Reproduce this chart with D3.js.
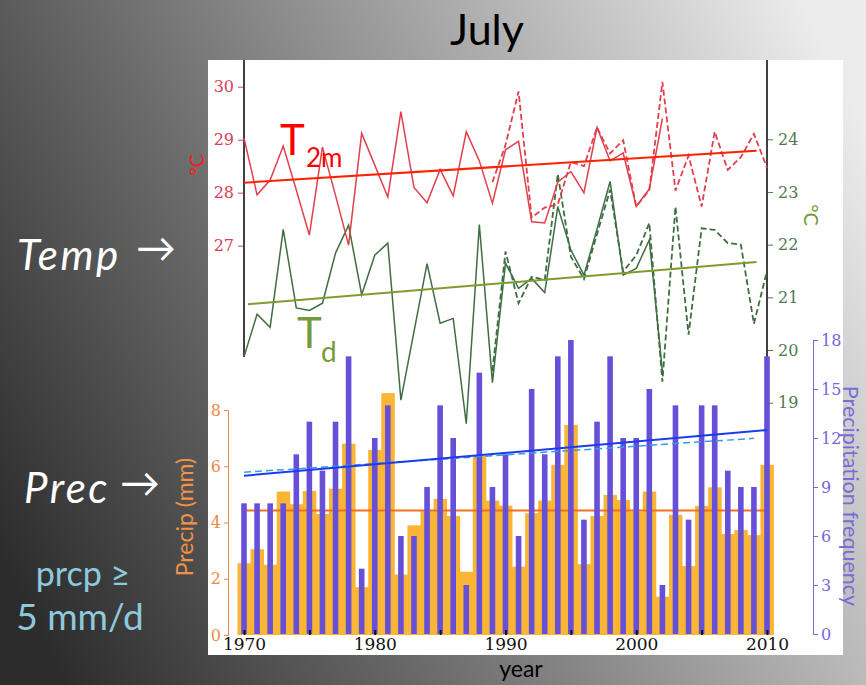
<!DOCTYPE html>
<html>
<head>
<meta charset="utf-8">
<script src="https://cdn.jsdelivr.net/npm/d3@7"></script>
<style>
  html, body { margin: 0; padding: 0; }
  svg { display: block; }
</style>
</head>
<body>
<svg id="chart" width="866" height="685"></svg>
<script>
// ---- data (July, 1970-2010) ----
const years = d3.range(1970, 2011);

// 2 m air temperature (°C), station series and extended series
const t2m = [29.03, 27.96, 28.24, 28.88, 28.05, 27.2, 28.86, 27.95, 27.01, 29.12,
             28.52, 27.92, 29.53, 28.1, 27.81, 28.44, 27.94, 29.15, 28.6, 27.8,
             28.81, 28.97, 27.45, 27.43, 28.2, 28.4, 28.0, 29.23, 28.6, 28.75,
             27.74, 28.07, 29.4, null, null, null, null, null, null, null, null];
const t2mExt = [null, null, null, null, null, null, null, null, null, null,
                null, null, null, null, null, null, null, null, null, 28.2,
                28.9, 29.91, 27.53, 27.72, 27.78, 28.58, 28.5, 29.23, 28.74, 28.99,
                27.74, 28.05, 30.09, 28.04, 28.7, 27.74, 29.15, 28.43, 28.67, 29.11, 28.47];

// dew point temperature (°C)
const td = [19.87, 20.68, 20.43, 22.29, 20.8, 20.75, 20.89, 21.84, 22.37, 21.05,
            21.8, 22.03, 19.05, 20.35, 21.64, 20.51, 20.6, 18.6, 22.38, 19.38,
            21.65, 21.17, 21.36, 21.09, 22.72, 21.9, 21.42, 22.3, 23.2, 21.42,
            21.55, 22.09, 19.6, null, null, null, null, null, null, null, null];
const tdExt = [null, null, null, null, null, null, null, null, null, null,
               null, null, null, null, null, null, null, null, null, 19.6,
               21.87, 20.89, 21.39, 21.33, 23.34, 21.77, 21.35, 22.2, 23.04, 21.49,
               21.8, 22.41, 19.4, 22.72, 20.29, 22.31, 22.28, 22.03, 22.0, 20.5, 21.5];

// precipitation (mm) and number of days with prcp >= 5 mm/d
const precip = [2.55, 3.05, 2.5, 5.1, 4.65, 5.12, 4.3, 5.2, 6.8, 1.7,
                6.58, 8.6, 2.15, 3.9, 4.4, 4.84, 4.23, 2.25, 6.37, 4.78,
                4.6, 2.43, 4.33, 4.78, 6.05, 7.47, 2.52, 4.23, 4.98, 4.8,
                4.39, 5.1, 1.36, 4.27, 2.45, 4.59, 5.25, 3.59, 3.73, 3.55, 6.05];
const freq = [8, 8, 8, 8, 11, 13, 10, 13, 17, 4,
              12, 14, 6, 6, 9, 14, 12, 3, 16, 9,
              11, 6, 15, 11, 17, 18, 7, 13, 17, 12,
              12, 15, 3, 14, 7, 14, 14, 10, 9, 9, 17];

// fitted lines: [year, value] end points
const t2mTrend = [[1970, 28.19], [2009.2, 28.79]];
const tdTrend = [[1970.3, 20.87], [2009.2, 21.67]];
const precipMean = [[1970, 4.43], [2010, 4.43]];
const freqTrend = [[1970, 9.69], [2010, 12.49]];
const freqTrendExt = [[1970, 9.9], [2009, 11.98]];

// axis ticks
const t2mTicks = [27, 28, 29, 30];
const tdTicks = [19, 20, 21, 22, 23, 24];
const precipTicks = [0, 2, 4, 6, 8];
const freqTicks = [0, 3, 6, 9, 12, 15, 18];
const yearTicks = d3.range(1970, 2011, 5);
const yearLabels = [1970, 1980, 1990, 2000, 2010];

// ---- layout ----
const svg = d3.select("#chart");
const serif = "'DejaVu Serif', serif";
const sans = "Lato, 'Open Sans', sans-serif";
const fmt = d3.format("d");

const x = d3.scaleLinear().domain([1970, 2010]).range([244, 767]);
const yT = d3.scaleLinear().domain([27, 30]).range([245.7, 86.7]);
const yTd = d3.scaleLinear().domain([19, 24]).range([402.7, 139.3]);
const yP = d3.scaleLinear().domain([0, 8]).range([635, 410]);
const yF = d3.scaleLinear().domain([0, 18]).range([634, 340]);

// background
const defs = svg.append("defs");
const grad = defs.append("linearGradient").attr("id", "bg")
  .attr("gradientUnits", "userSpaceOnUse")
  .attr("x1", 0).attr("y1", 560).attr("x2", 866).attr("y2", 130);
grad.append("stop").attr("offset", "0").attr("stop-color", "#2c2c2c");
grad.append("stop").attr("offset", "0.35").attr("stop-color", "#6c6c6c");
grad.append("stop").attr("offset", "1").attr("stop-color", "#ececec");
svg.append("rect").attr("width", 866).attr("height", 685).attr("fill", "url(#bg)");

// white panel
svg.append("rect").attr("x", 208).attr("y", 60).attr("width", 635).attr("height", 595)
  .attr("fill", "#ffffff");

// title
svg.append("text").attr("x", 487).attr("y", 45).attr("text-anchor", "middle")
  .attr("font-family", sans).attr("font-size", 43).attr("fill", "#000").text("July");

// frame lines of the temperature panel
[1970, 2010].forEach(yr => {
  svg.append("line").attr("x1", x(yr)).attr("x2", x(yr)).attr("y1", 60).attr("y2", 357)
    .attr("stroke", "#111").attr("stroke-width", 1.6);
});

// ---- bars ----
const bw = x(1971) - x(1970);
svg.append("g").selectAll("rect").data(years).join("rect")
  .attr("x", (d) => x(d) - bw / 2)
  .attr("width", bw + 0.4)
  .attr("y", (d, i) => yP(precip[i]))
  .attr("height", (d, i) => yP(0) - yP(precip[i]))
  .attr("fill", "#fbb534");

// mean precipitation line (under frequency bars)
const line2 = (sx, sy) => d3.line().x(d => sx(d[0])).y(d => sy(d[1]));
svg.append("path").attr("d", line2(x, yP)(precipMean))
  .attr("fill", "none").attr("stroke", "#f07020").attr("stroke-width", 2);

svg.append("g").selectAll("rect").data(years).join("rect")
  .attr("x", (d) => x(d) - 2.8)
  .attr("width", 5.6)
  .attr("y", (d, i) => yF(freq[i]))
  .attr("height", (d, i) => yF(0) - yF(freq[i]))
  .attr("fill", "#6650d8");

// frequency trends
svg.append("path").attr("d", line2(x, yF)(freqTrendExt))
  .attr("fill", "none").attr("stroke", "#3a9ae8").attr("stroke-width", 1.5)
  .attr("stroke-dasharray", "7,4");
svg.append("path").attr("d", line2(x, yF)(freqTrend))
  .attr("fill", "none").attr("stroke", "#1a3cf0").attr("stroke-width", 2);

// ---- temperature lines ----
function series(vals, sy) {
  return d3.line().defined(d => d[1] != null).x(d => x(d[0])).y(d => sy(d[1]))(
    years.map((yr, i) => [yr, vals[i]]));
}
svg.append("path").attr("d", series(tdExt, yTd)).attr("fill", "none")
  .attr("stroke", "#3e6e42").attr("stroke-width", 1.8).attr("stroke-dasharray", "6,3");
svg.append("path").attr("d", series(td, yTd)).attr("fill", "none")
  .attr("stroke", "#3e6e42").attr("stroke-width", 1.5);
svg.append("path").attr("d", series(t2mExt, yT)).attr("fill", "none")
  .attr("stroke", "#e0404e").attr("stroke-width", 1.8).attr("stroke-dasharray", "6,3");
svg.append("path").attr("d", series(t2m, yT)).attr("fill", "none")
  .attr("stroke", "#e0404e").attr("stroke-width", 1.5);

svg.append("path").attr("d", line2(x, yT)(t2mTrend))
  .attr("fill", "none").attr("stroke", "#ff2200").attr("stroke-width", 2);
svg.append("path").attr("d", line2(x, yTd)(tdTrend))
  .attr("fill", "none").attr("stroke", "#7d9c2c").attr("stroke-width", 2);

// ---- axes ----
function styleAxis(g, color, size) {
  g.selectAll("text").attr("font-family", serif).attr("font-size", size).attr("fill", color);
  g.selectAll("line").attr("stroke", color);
  g.selectAll("path").attr("stroke", color);
}

const axT = svg.append("g").attr("transform", "translate(243,0)")
  .call(d3.axisLeft(yT).tickValues(t2mTicks).tickFormat(fmt).tickSize(5).tickPadding(4));
axT.select(".domain").remove();
styleAxis(axT, "#d64058", 16);

const axTd = svg.append("g").attr("transform", "translate(768,0)")
  .call(d3.axisRight(yTd).tickValues(tdTicks).tickFormat(fmt).tickSize(5).tickPadding(5));
axTd.select(".domain").remove();
styleAxis(axTd, "#4e7a52", 16);

const axP = svg.append("g").attr("transform", "translate(228,0)")
  .call(d3.axisLeft(yP).tickValues(precipTicks).tickFormat(fmt).tickSize(4).tickSizeOuter(4).tickPadding(3));
styleAxis(axP, "#ec8a48", 16);

const axF = svg.append("g").attr("transform", "translate(813,0)")
  .call(d3.axisRight(yF).tickValues(freqTicks).tickFormat(fmt).tickSize(5).tickSizeOuter(5).tickPadding(3));
styleAxis(axF, "#7a66dc", 16);

const axX = svg.append("g").attr("transform", "translate(0,635)")
  .call(d3.axisBottom(x).tickValues(yearTicks).tickSize(-5).tickPadding(5)
    .tickFormat(d => yearLabels.includes(d) ? fmt(d) : ""));
axX.select(".domain").remove();
styleAxis(axX, "#111", 17);
axX.selectAll("line").attr("stroke-width", 2);
axX.selectAll("text").attr("dy", "0.6em");

// axis titles
svg.append("text").attr("transform", "translate(204,165) rotate(-90)")
  .attr("text-anchor", "middle").attr("font-family", sans).attr("font-size", 20)
  .attr("fill", "#ff1a1a").text("°C");
svg.append("text").attr("transform", "translate(804,215) rotate(90)")
  .attr("text-anchor", "middle").attr("font-family", sans).attr("font-size", 20)
  .attr("fill", "#6e9a36").text("°C");
svg.append("text").attr("transform", "translate(193,517) rotate(-90)")
  .attr("text-anchor", "middle").attr("font-family", sans).attr("font-size", 23)
  .attr("fill", "#f0924a").text("Precip (mm)");
svg.append("text").attr("transform", "translate(843,496) rotate(90)")
  .attr("text-anchor", "middle").attr("font-family", sans).attr("font-size", 21.5)
  .attr("fill", "#7a6cd6").text("Precipitation frequency");
svg.append("text").attr("x", 521).attr("y", 677).attr("text-anchor", "middle")
  .attr("font-family", sans).attr("font-size", 23).attr("fill", "#000").text("year");

// series labels
svg.append("text").attr("x", 280).attr("y", 155).attr("font-family", sans)
  .attr("font-size", 42).attr("fill", "#ff0000").text("T");
svg.append("text").attr("x", 306).attr("y", 167).attr("font-family", sans)
  .attr("font-size", 26).attr("fill", "#ff0000").text("2m");
svg.append("text").attr("x", 297).attr("y", 348).attr("font-family", sans)
  .attr("font-size", 42).attr("fill", "#779a3a").text("T");
svg.append("text").attr("x", 321).attr("y", 362).attr("font-family", sans)
  .attr("font-size", 28).attr("fill", "#779a3a").text("d");

// side annotations
function note(label, tx, ty, ax, ay) {
  svg.append("text").attr("x", tx).attr("y", ty).attr("font-family", sans)
    .attr("font-style", "italic").attr("font-size", 42).attr("letter-spacing", 2.5)
    .attr("fill", "#fff").text(label);
  svg.append("text").attr("x", ax).attr("y", ay).attr("font-family", sans)
    .attr("font-size", 40).attr("fill", "#fff").text("→");
}
note("Temp", 17, 270, 136, 262);
note("Prec", 24, 503, 120, 497);
svg.append("text").attr("x", 83).attr("y", 586).attr("text-anchor", "middle")
  .attr("font-family", sans).attr("font-size", 34).attr("fill", "#8ec9dc").text("prcp ≥");
svg.append("text").attr("x", 80).attr("y", 630).attr("text-anchor", "middle")
  .attr("font-family", sans).attr("font-size", 37).attr("fill", "#8ec9dc").text("5 mm/d");
</script>
</body>
</html>
